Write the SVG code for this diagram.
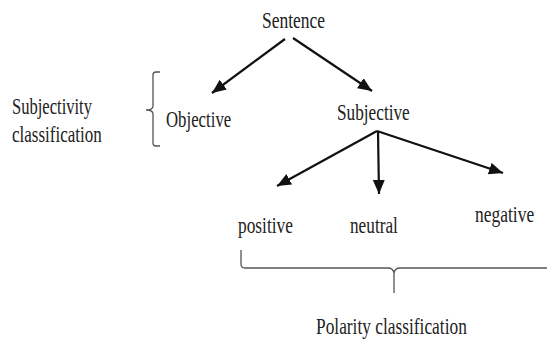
<svg xmlns="http://www.w3.org/2000/svg" width="547" height="340" viewBox="0 0 547 340">
<style>
text{font-family:"Liberation Serif","Times New Roman",serif;font-size:23px;fill:#222;}
.arr{stroke:#111;stroke-width:2.2;fill:none;marker-end:url(#ah);}
.br{stroke:#555;stroke-width:1.3;fill:none;}
</style>
<defs>
<marker id="ah" markerUnits="userSpaceOnUse" markerWidth="16" markerHeight="14" refX="14" refY="6" orient="auto">
<path d="M0,0 L14,6 L0,12 Z" fill="#111"/>
</marker>
</defs>
<rect width="547" height="340" fill="#fff"/>
<g id="connectors">
<line class="arr" x1="285" y1="39" x2="212" y2="93"/>
<line class="arr" x1="293" y1="38" x2="372" y2="91"/>
<line class="arr" x1="377" y1="131" x2="277" y2="186"/>
<line class="arr" x1="378" y1="131" x2="379" y2="194"/>
<line class="arr" x1="377" y1="131" x2="503" y2="173"/>
</g>
<g id="sentence"><text transform="translate(262,28) scale(0.76,1)">Sentence</text></g>
<g id="objective"><text transform="translate(166,127) scale(0.73,1)">Objective</text></g>
<g id="subjective"><text transform="translate(337,120) scale(0.75,1)">Subjective</text></g>
<g id="positive"><text transform="translate(238,233) scale(0.755,1)">positive</text></g>
<g id="neutral"><text transform="translate(350,233) scale(0.75,1)">neutral</text></g>
<g id="negative"><text transform="translate(475,222) scale(0.76,1)">negative</text></g>
<g id="subjectivity-label">
<text transform="translate(12,114) scale(0.72,1)">Subjectivity</text>
<text transform="translate(12,142) scale(0.74,1)">classification</text>
<path class="br" d="M160,72 H156 Q153,72 153,75 V106 Q153,110 146,110 Q153,110 153,114 V143 Q153,146 156,146 H160"/>
</g>
<g id="polarity-label">
<path class="br" d="M241,250 V264 Q241,268 245,268 H388 Q393,268 394,273 M394,293 V273 Q395,268 400,268 H547"/>
<text transform="translate(316,334) scale(0.755,1)">Polarity classification</text>
</g>
</svg>
